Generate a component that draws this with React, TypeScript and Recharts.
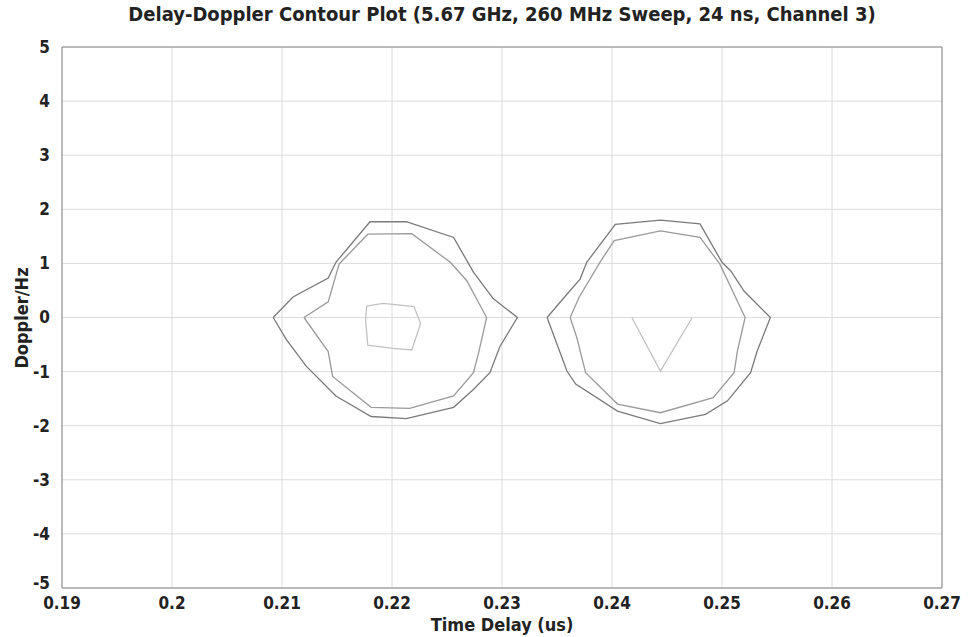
import { LineChart, Line, XAxis, YAxis, CartesianGrid, ReferenceLine } from "recharts";

type Pt = { x: number; y: number };

const xTicks = [0.19, 0.2, 0.21, 0.22, 0.23, 0.24, 0.25, 0.26, 0.27];
const yTicks = [-5, -4, -3, -2, -1, 0, 1, 2, 3, 4, 5];

// left target, outer contour level
const leftOuter: Pt[] = [
  { x: 0.2092, y: 0 }, { x: 0.211, y: 0.38 }, { x: 0.2142, y: 0.73 }, { x: 0.2149, y: 1.02 },
  { x: 0.218, y: 1.77 }, { x: 0.2213, y: 1.77 }, { x: 0.2256, y: 1.48 }, { x: 0.2274, y: 0.84 },
  { x: 0.2292, y: 0.35 }, { x: 0.2314, y: 0 }, { x: 0.2298, y: -0.54 }, { x: 0.2289, y: -1.02 },
  { x: 0.2274, y: -1.33 }, { x: 0.2256, y: -1.66 }, { x: 0.2213, y: -1.87 }, { x: 0.2181, y: -1.83 },
  { x: 0.2149, y: -1.45 }, { x: 0.2122, y: -0.9 }, { x: 0.2104, y: -0.41 }, { x: 0.2092, y: 0 },
];

const leftInner: Pt[] = [
  { x: 0.212, y: 0 }, { x: 0.2142, y: 0.29 }, { x: 0.2152, y: 0.99 }, { x: 0.2178, y: 1.54 },
  { x: 0.2218, y: 1.55 }, { x: 0.2253, y: 1.02 }, { x: 0.2268, y: 0.68 }, { x: 0.2286, y: 0 },
  { x: 0.2279, y: -0.63 }, { x: 0.2274, y: -1.02 }, { x: 0.2256, y: -1.45 }, { x: 0.2216, y: -1.68 },
  { x: 0.2181, y: -1.66 }, { x: 0.2146, y: -1.09 }, { x: 0.2142, y: -0.63 }, { x: 0.212, y: 0 },
];

const leftCore: Pt[] = [
  { x: 0.2177, y: 0.21 }, { x: 0.2192, y: 0.26 }, { x: 0.222, y: 0.2 }, { x: 0.2226, y: -0.11 },
  { x: 0.2218, y: -0.6 }, { x: 0.2201, y: -0.57 }, { x: 0.2178, y: -0.51 }, { x: 0.2176, y: -0.05 },
  { x: 0.2177, y: 0.21 },
];

// right target
const rightOuter: Pt[] = [
  { x: 0.2341, y: 0 }, { x: 0.2359, y: 0.43 }, { x: 0.2371, y: 0.71 }, { x: 0.2377, y: 1.02 },
  { x: 0.2403, y: 1.72 }, { x: 0.2444, y: 1.8 }, { x: 0.248, y: 1.73 }, { x: 0.25, y: 1.02 },
  { x: 0.2508, y: 0.86 }, { x: 0.252, y: 0.49 }, { x: 0.2544, y: 0 }, { x: 0.2532, y: -0.62 },
  { x: 0.2526, y: -1.02 }, { x: 0.2505, y: -1.54 }, { x: 0.2485, y: -1.79 }, { x: 0.2444, y: -1.96 },
  { x: 0.2405, y: -1.73 }, { x: 0.2367, y: -1.23 }, { x: 0.2359, y: -0.99 }, { x: 0.2341, y: 0 },
];

const rightInner: Pt[] = [
  { x: 0.2362, y: 0 }, { x: 0.237, y: 0.37 }, { x: 0.2389, y: 1.02 }, { x: 0.2402, y: 1.42 },
  { x: 0.2444, y: 1.6 }, { x: 0.248, y: 1.48 }, { x: 0.2498, y: 0.99 }, { x: 0.2521, y: 0 },
  { x: 0.2514, y: -0.62 }, { x: 0.2511, y: -1.02 }, { x: 0.2492, y: -1.48 }, { x: 0.2444, y: -1.76 },
  { x: 0.2405, y: -1.6 }, { x: 0.2376, y: -1.02 }, { x: 0.2368, y: -0.37 }, { x: 0.2362, y: 0 },
];

const rightCore: Pt[] = [
  { x: 0.2418, y: 0 }, { x: 0.2444, y: -0.99 }, { x: 0.2473, y: 0 },
];

const font = "'DejaVu Sans Condensed', 'Liberation Sans Narrow', 'Liberation Sans', Arial, sans-serif";
const ink = "#222";

function YTick(props: any) {
  const { x, y, payload } = props;
  // the bottom label sits a little higher, clear of the 0.19 label
  const dy = payload.value === -5 ? -5 : 0;
  return (
    <text
      x={x}
      y={y + dy}
      dy="0.35em"
      textAnchor="end"
      fill={ink}
      fontSize={17}
      fontWeight="bold"
      fontFamily={font}
    >
      {payload.value}
    </text>
  );
}

export default function App() {
  const contours = [
    { id: "lo", data: leftOuter, color: "#7a7a7a" },
    { id: "li", data: leftInner, color: "#9a9a9a" },
    { id: "lc", data: leftCore, color: "#c2c2c2" },
    { id: "ro", data: rightOuter, color: "#7a7a7a" },
    { id: "ri", data: rightInner, color: "#9a9a9a" },
    { id: "rc", data: rightCore, color: "#c2c2c2" },
  ];

  return (
    <div style={{ position: "relative", width: 968, height: 637, background: "#fff", fontFamily: font }}>
      <style>{`body{margin:0}`}</style>
      <div
        style={{
          position: "absolute", top: 2, left: 62, width: 880, textAlign: "center",
          fontWeight: "bold", fontSize: 20, color: ink,
        }}
      >
        Delay-Doppler Contour Plot (5.67 GHz, 260 MHz Sweep, 24 ns, Channel 3)
      </div>
      <div
        style={{
          position: "absolute", left: 21, top: 318, transform: "translate(-50%, -50%) rotate(-90deg)",
          fontWeight: "bold", fontSize: 18, color: ink, whiteSpace: "nowrap",
        }}
      >
        Doppler/Hz
      </div>
      <div
        style={{
          position: "absolute", top: 614, left: 62, width: 880, textAlign: "center",
          fontWeight: "bold", fontSize: 18, color: ink,
        }}
      >
        Time Delay (us)
      </div>
      <LineChart width={968} height={637} margin={{ top: 47, right: 26, bottom: 0, left: 0 }}>
        <CartesianGrid stroke="#dcdcdc" horizontalValues={yTicks} verticalValues={xTicks} />
        <XAxis
          type="number"
          dataKey="x"
          domain={[0.19, 0.27]}
          ticks={xTicks}
          allowDataOverflow
          height={49}
          stroke="#888"
          tickLine={false}
          tick={{ fill: ink, fontSize: 17, fontWeight: "bold", fontFamily: font }}
          tickMargin={3}
          tickFormatter={(v: number) => String(v)}
        />
        <YAxis
          type="number"
          dataKey="y"
          domain={[-5, 5]}
          ticks={yTicks}
          allowDataOverflow
          width={62}
          stroke="#888"
          tickLine={false}
          tick={<YTick />}
          tickMargin={6}
        />
        <ReferenceLine y={5} stroke="#888" />
        <ReferenceLine x={0.27} stroke="#888" />
        {contours.map((c) => (
          <Line
            key={c.id}
            data={c.data}
            dataKey="y"
            type="linear"
            stroke={c.color}
            strokeWidth={1.3}
            dot={false}
            activeDot={false}
            isAnimationActive={false}
          />
        ))}
      </LineChart>
    </div>
  );
}
